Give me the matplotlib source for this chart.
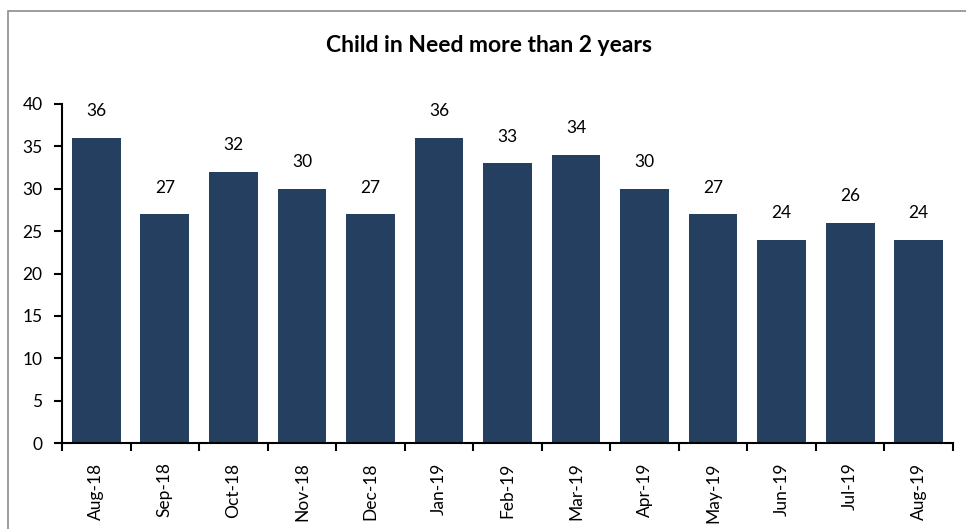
import numpy as np
import matplotlib.pyplot as plt
from matplotlib.patches import Rectangle

months = ['Aug-18', 'Sep-18', 'Oct-18', 'Nov-18', 'Dec-18', 'Jan-19', 'Feb-19',
          'Mar-19', 'Apr-19', 'May-19', 'Jun-19', 'Jul-19', 'Aug-19']
counts = [36, 27, 32, 30, 27, 36, 33, 34, 30, 27, 24, 26, 24]

plt.rcParams['font.family'] = ['Lato', 'DejaVu Sans']

W, H = 966, 529
fig = plt.figure(figsize=(W / 100, H / 100), dpi=100)

# outer chart border (grey)
fig.patches.append(Rectangle((8 / W, -0.1), 1.2, (H - 11) / H + 0.1,
                             transform=fig.transFigure, fill=False,
                             edgecolor='#8c8c8c', linewidth=1.2))

ax = fig.add_axes([62 / W, 1 - 443 / H, (953 - 62) / W, (443 - 104) / H])
x = np.arange(len(months))
ax.bar(x, counts, width=0.71, color='#243F60')

for xi, v in zip(x, counts):
    ax.text(xi, v + 2.2, str(v), ha='center', va='bottom', fontsize=12.5)

ax.set_xlim(-0.5, len(months) - 0.5)
ax.set_ylim(0, 40)
ax.set_yticks(range(0, 41, 5))
ax.set_xticks(np.arange(-0.5, len(months)), labels=[])
ax.set_xticks(x, labels=months, minor=True, rotation=90)
ax.tick_params(axis='x', which='minor', length=0, pad=14, labelsize=12.5)
ax.tick_params(axis='x', which='major', direction='out', length=6, width=1.5)
ax.tick_params(axis='y', direction='out', length=6, width=1.5, labelsize=12.5, pad=8)

for s in ['top', 'right']:
    ax.spines[s].set_visible(False)
for s in ['left', 'bottom']:
    ax.spines[s].set_linewidth(1.5)

fig.text(489 / W, 1 - 45 / H, 'Child in Need more than 2 years', ha='center',
         va='center', fontsize=16.5, fontweight='bold')

fig.savefig('out.png', dpi=100)
